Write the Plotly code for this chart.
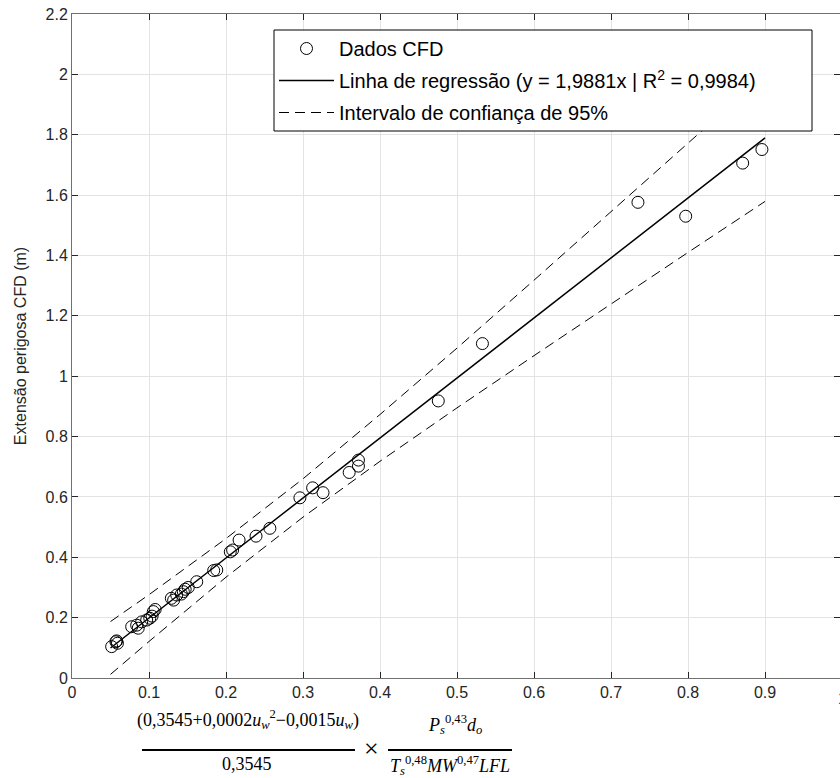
import plotly.graph_objects as go

# CFD data points
cfd_x = [0.0515, 0.057, 0.059, 0.058, 0.0775, 0.084, 0.086, 0.0905, 0.097, 0.101,
         0.1056, 0.108, 0.104, 0.129, 0.132, 0.136, 0.142, 0.1446, 0.147, 0.151,
         0.162, 0.184, 0.188, 0.2056, 0.2086, 0.217, 0.239, 0.257, 0.296, 0.3125,
         0.326, 0.36, 0.372, 0.372, 0.4757, 0.533, 0.735, 0.797, 0.871, 0.896]
cfd_y = [0.104, 0.120, 0.115, 0.123, 0.170, 0.175, 0.165, 0.186, 0.192, 0.198,
         0.220, 0.227, 0.205, 0.264, 0.258, 0.275, 0.278, 0.286, 0.294, 0.300,
         0.319, 0.356, 0.358, 0.418, 0.424, 0.457, 0.470, 0.496, 0.597, 0.630,
         0.614, 0.681, 0.722, 0.702, 0.918, 1.108, 1.576, 1.530, 1.706, 1.751]

# Regression line and 95% band
reg_x = [0.05, 0.9]
reg_y = [0.0994, 1.7893]
band_x = [0.05, 0.1, 0.2, 0.3, 0.4, 0.5, 0.6, 0.7, 0.8, 0.9]
band_upper = [0.187, 0.276, 0.462, 0.660, 0.873, 1.093, 1.318, 1.544, 1.771, 1.999]
band_lower = [0.012, 0.121, 0.334, 0.533, 0.718, 0.895, 1.068, 1.240, 1.410, 1.579]

x_ticks = [0, 0.1, 0.2, 0.3, 0.4, 0.5, 0.6, 0.7, 0.8, 0.9, 1]
y_ticks = [0, 0.2, 0.4, 0.6, 0.8, 1, 1.2, 1.4, 1.6, 1.8, 2, 2.2]

name_pts = "Dados CFD"
name_reg = "Linha de regressão (y = 1,9881x | R<sup>2</sup> = 0,9984)"
name_band = "Intervalo de confiança de 95%"

fig = go.Figure()
fig.add_trace(go.Scatter(
    x=reg_x, y=reg_y, mode="lines", name=name_reg, legendrank=2, legendgroup="b",
    line=dict(color="black", width=1.5)))
fig.add_trace(go.Scatter(
    x=band_x, y=band_upper, mode="lines", name=name_band, legendrank=3, legendgroup="c",
    line=dict(color="black", width=1, dash="10px,6px")))
fig.add_trace(go.Scatter(
    x=band_x, y=band_lower, mode="lines", showlegend=False, legendgroup="c",
    line=dict(color="black", width=1, dash="10px,6px")))
fig.add_trace(go.Scatter(
    x=cfd_x, y=cfd_y, mode="markers", name=name_pts, legendrank=1, legendgroup="a",
    marker=dict(symbol="circle-open", size=12, color="black", line=dict(width=1, color="black"))))

tickfont = dict(family="Liberation Sans, Arial", size=16, color="#262626")
axis_common = dict(
    showgrid=True, gridcolor="#e3e3e3", gridwidth=1,
    showline=True, linecolor="#707070", linewidth=1, mirror="ticks",
    ticks="inside", ticklen=6, tickcolor="#262626", tickwidth=1,
    tickfont=tickfont, zeroline=False)

W_PLOT = 768

def px2x(px):
    return (px - 72) / W_PLOT

def py2y(py):
    return (678 - py) / 664

fig.update_layout(
    width=840, height=778,
    margin=dict(l=72, r=0, t=14, b=100),
    paper_bgcolor="white", plot_bgcolor="white",
    xaxis=dict(range=[0, 0.9974], tickvals=x_ticks, **axis_common),
    yaxis=dict(range=[0, 2.2], tickvals=y_ticks,
               title=dict(text="Extensão perigosa CFD (m)", standoff=14,
                          font=dict(family="Liberation Sans, Arial", size=16, color="#262626")),
               **axis_common),
    legend=dict(x=px2x(274), y=py2y(29), xanchor="left", yanchor="top",
                bgcolor="rgba(255,255,255,0)", borderwidth=0,
                font=dict(family="Liberation Sans, Arial", size=20, color="black"),
                itemwidth=55, tracegroupgap=3, traceorder="grouped"),
    showlegend=True,
)

# legend frame (white box covering the band, as in the reference)
fig.add_shape(type="rect", xref="paper", yref="paper", layer="above",
              x0=px2x(274), x1=px2x(812), y0=py2y(131), y1=py2y(30),
              fillcolor="white", line=dict(color="black", width=1))

serif = dict(family="Liberation Serif, DejaVu Serif, serif", size=18, color="black")
annos = [
    ("(0,3545+0,0002<i>u</i><sub><i>w</i></sub><sup>2</sup>−0,0015<i>u</i><sub><i>w</i></sub>)", 248, 720, 18),
    ("0,3545", 247, 764, 18),
    ("×", 371, 748, 26),
    ("<i>P</i><sub><i>s</i></sub><sup>0,43</sup><i>d</i><sub><i>o</i></sub>", 455, 724, 18),
    ("<i>T</i><sub><i>s</i></sub><sup>0,48</sup><i>MW</i><sup>0,47</sup><i>LFL</i>", 450, 765, 18),
]
for txt, ax_, ay_, fs in annos:
    fig.add_annotation(text=txt, xref="paper", yref="paper", x=px2x(ax_), y=py2y(ay_),
                       showarrow=False, xanchor="center", yanchor="middle",
                       font=dict(serif, size=fs))
# "1" tick label partially cut at the right edge
fig.add_annotation(text="1", xref="paper", yref="paper", x=px2x(842), y=py2y(698),
                   showarrow=False, xanchor="center", yanchor="middle", font=tickfont)

for x0, x1 in [(142, 355), (388, 512)]:
    fig.add_shape(type="line", xref="paper", yref="paper",
                  x0=px2x(x0), x1=px2x(x1), y0=py2y(750), y1=py2y(750),
                  line=dict(color="black", width=2))

fig.write_html("out.html")
